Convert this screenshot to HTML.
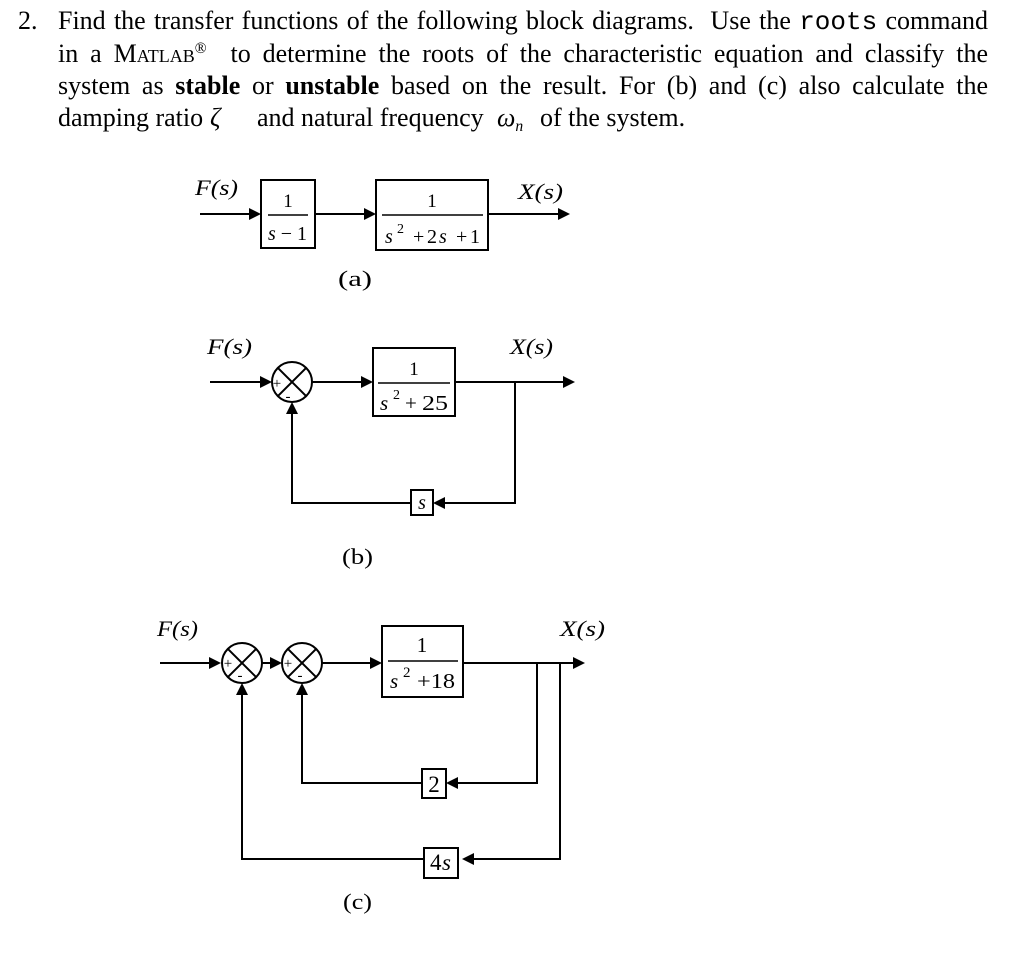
<!DOCTYPE html>
<html>
<head>
<meta charset="utf-8">
<style>
html,body{margin:0;padding:0;background:#fff;}
body{width:1024px;height:954px;position:relative;overflow:hidden;font-family:"Liberation Serif",serif;color:#000;}
.ln{position:absolute;font-size:26px;line-height:26px;white-space:nowrap;}
.j{left:58px;width:930px;text-align:justify;text-align-last:justify;white-space:normal;}
.mono{font-family:"Liberation Mono",monospace;}
.sc{font-variant:small-caps;}
.sup{position:relative;top:-0.55em;font-size:60%;vertical-align:baseline;}
.sub{position:relative;top:0.35em;font-size:60%;vertical-align:baseline;}
svg{position:absolute;left:0;top:0;}
svg text{font-family:"Liberation Serif",serif;fill:#000;}
</style>
</head>
<body>
<div class="ln" style="left:18px;top:8px;">2.</div>
<div class="ln j" style="top:8px;">Find the transfer functions of the following block diagrams.&nbsp; Use the <span class="mono">roots</span> command</div>
<div class="ln j" style="top:41px;">in a M<span class="sc">atlab</span><span class="sup">®</span>&nbsp; to determine the roots of the characteristic equation and classify the</div>
<div class="ln j" style="top:73px;">system as <b>stable</b> or <b>unstable</b> based on the result. For (b) and (c) also calculate the</div>
<div class="ln" style="left:58px;top:105px;">damping ratio</div>
<div class="ln" style="left:210px;top:105px;"><i>ζ</i></div>
<div class="ln" style="left:257px;top:105px;">and natural frequency</div>
<div class="ln" style="left:497px;top:105px;"><i>ω</i><span class="sub"><i>n</i></span></div>
<div class="ln" style="left:540px;top:105px;">of the system.</div>

<svg width="1024" height="954" viewBox="0 0 1024 954" font-family="Liberation Serif, serif">
<g stroke="#000" stroke-width="2" fill="none">
  <!-- (a) -->
  <line x1="200" y1="214" x2="250" y2="214"/>
  <rect x="261" y="180" width="54" height="68"/>
  <line x1="315" y1="214" x2="365" y2="214"/>
  <rect x="376" y="180" width="112" height="70"/>
  <line x1="488" y1="214" x2="559" y2="214"/>
  <!-- (b) -->
  <line x1="210" y1="382" x2="261" y2="382"/>
  <circle cx="292" cy="382" r="20"/>
  <line x1="277.9" y1="367.9" x2="306.1" y2="396.1"/>
  <line x1="306.1" y1="367.9" x2="277.9" y2="396.1"/>
  <line x1="312" y1="382" x2="362" y2="382"/>
  <rect x="373" y="348" width="82" height="68"/>
  <line x1="455" y1="382" x2="564" y2="382"/>
  <polyline points="515,382 515,503 444,503"/>
  <rect x="411" y="490" width="22" height="25"/>
  <polyline points="411,503 292,503 292,413"/>
  <!-- (c) -->
  <line x1="160" y1="663" x2="210" y2="663"/>
  <circle cx="242" cy="663" r="20"/>
  <line x1="227.9" y1="648.9" x2="256.1" y2="677.1"/>
  <line x1="256.1" y1="648.9" x2="227.9" y2="677.1"/>
  <line x1="262" y1="663" x2="271" y2="663"/>
  <circle cx="302" cy="663" r="20"/>
  <line x1="287.9" y1="648.9" x2="316.1" y2="677.1"/>
  <line x1="316.1" y1="648.9" x2="287.9" y2="677.1"/>
  <line x1="322" y1="663" x2="371" y2="663"/>
  <rect x="382" y="626" width="81" height="71"/>
  <line x1="463" y1="663" x2="574" y2="663"/>
  <polyline points="537,663 537,783 457,783"/>
  <rect x="422" y="769" width="24" height="29"/>
  <polyline points="422,783 302,783 302,694"/>
  <polyline points="560,663 560,859 473,859"/>
  <rect x="424" y="848" width="34" height="30"/>
  <polyline points="424,859 242,859 242,694"/>
</g>
<g stroke="#000" stroke-width="1.5">
  <line x1="268" y1="215" x2="308" y2="215"/>
  <line x1="382" y1="215" x2="483" y2="215"/>
  <line x1="378" y1="383" x2="450" y2="383"/>
  <line x1="388" y1="661" x2="458" y2="661"/>
</g>
<g fill="#000" stroke="none">
  <polygon points="261,214 249,208 249,220"/>
  <polygon points="376,214 364,208 364,220"/>
  <polygon points="570,214 558,208 558,220"/>
  <polygon points="272,382 260,376 260,388"/>
  <polygon points="373,382 361,376 361,388"/>
  <polygon points="575,382 563,376 563,388"/>
  <polygon points="433,503 445,497 445,509"/>
  <polygon points="292,402 286,414 298,414"/>
  <polygon points="221,663 209,657 209,669"/>
  <polygon points="282,663 270,657 270,669"/>
  <polygon points="382,663 370,657 370,669"/>
  <polygon points="585,663 573,657 573,669"/>
  <polygon points="446,783 458,777 458,789"/>
  <polygon points="462,859 474,853 474,865"/>
  <polygon points="302,683 296,695 308,695"/>
  <polygon points="242,683 236,695 248,695"/>
</g>

<!-- (a) text -->
<text x="195" y="195" font-size="22" font-style="italic" textLength="43" lengthAdjust="spacingAndGlyphs">F(s)</text>
<text x="518" y="199" font-size="22" font-style="italic" textLength="45" lengthAdjust="spacingAndGlyphs">X(s)</text>
<text x="288" y="207" font-size="19" text-anchor="middle">1</text>
<text x="268" y="240" font-size="20" textLength="39" lengthAdjust="spacingAndGlyphs"><tspan font-style="italic">s</tspan> − 1</text>
<text x="432" y="207" font-size="19" text-anchor="middle">1</text>
<text x="385" y="243" font-size="20" font-style="italic">s</text>
<text x="397" y="233" font-size="14">2</text>
<text x="413" y="243" font-size="20">+</text>
<text x="427" y="243" font-size="20">2</text>
<text x="439" y="243" font-size="20" font-style="italic">s</text>
<text x="456" y="243" font-size="20">+</text>
<text x="470" y="243" font-size="20">1</text>
<text x="338" y="286" font-size="22" textLength="34" lengthAdjust="spacingAndGlyphs">(a)</text>

<!-- (b) text -->
<text x="207" y="354" font-size="22" font-style="italic" textLength="45" lengthAdjust="spacingAndGlyphs">F(s)</text>
<text x="510" y="354" font-size="22" font-style="italic" textLength="43" lengthAdjust="spacingAndGlyphs">X(s)</text>
<text x="277" y="388" font-size="15" text-anchor="middle">+</text>
<text x="288" y="401" font-size="15" text-anchor="middle">-</text>
<text x="414" y="375" font-size="19" text-anchor="middle">1</text>
<text x="380" y="410" font-size="21" font-style="italic">s</text>
<text x="393" y="399" font-size="14">2</text>
<text x="405" y="410" font-size="21">+</text>
<text x="422" y="410" font-size="21" textLength="26" lengthAdjust="spacingAndGlyphs">25</text>
<text x="422" y="509" font-size="20" font-style="italic" text-anchor="middle">s</text>
<text x="342" y="564" font-size="22" textLength="31" lengthAdjust="spacingAndGlyphs">(b)</text>

<!-- (c) text -->
<text x="157" y="636" font-size="22" font-style="italic" textLength="41" lengthAdjust="spacingAndGlyphs">F(s)</text>
<text x="560" y="636" font-size="22" font-style="italic" textLength="45" lengthAdjust="spacingAndGlyphs">X(s)</text>
<text x="228" y="668" font-size="15" text-anchor="middle">+</text>
<text x="240" y="680" font-size="15" text-anchor="middle">-</text>
<text x="288" y="668" font-size="15" text-anchor="middle">+</text>
<text x="300" y="680" font-size="15" text-anchor="middle">-</text>
<text x="422" y="652" font-size="21" text-anchor="middle">1</text>
<text x="390" y="688" font-size="21" font-style="italic">s</text>
<text x="403" y="677" font-size="15">2</text>
<text x="417" y="688" font-size="21" textLength="38" lengthAdjust="spacingAndGlyphs">+18</text>
<text x="434" y="792" font-size="23" text-anchor="middle">2</text>
<text x="430" y="870" font-size="23">4</text>
<text x="442" y="870" font-size="23" font-style="italic">s</text>
<text x="343" y="909" font-size="22" textLength="29" lengthAdjust="spacingAndGlyphs">(c)</text>
</svg>
</body>
</html>
